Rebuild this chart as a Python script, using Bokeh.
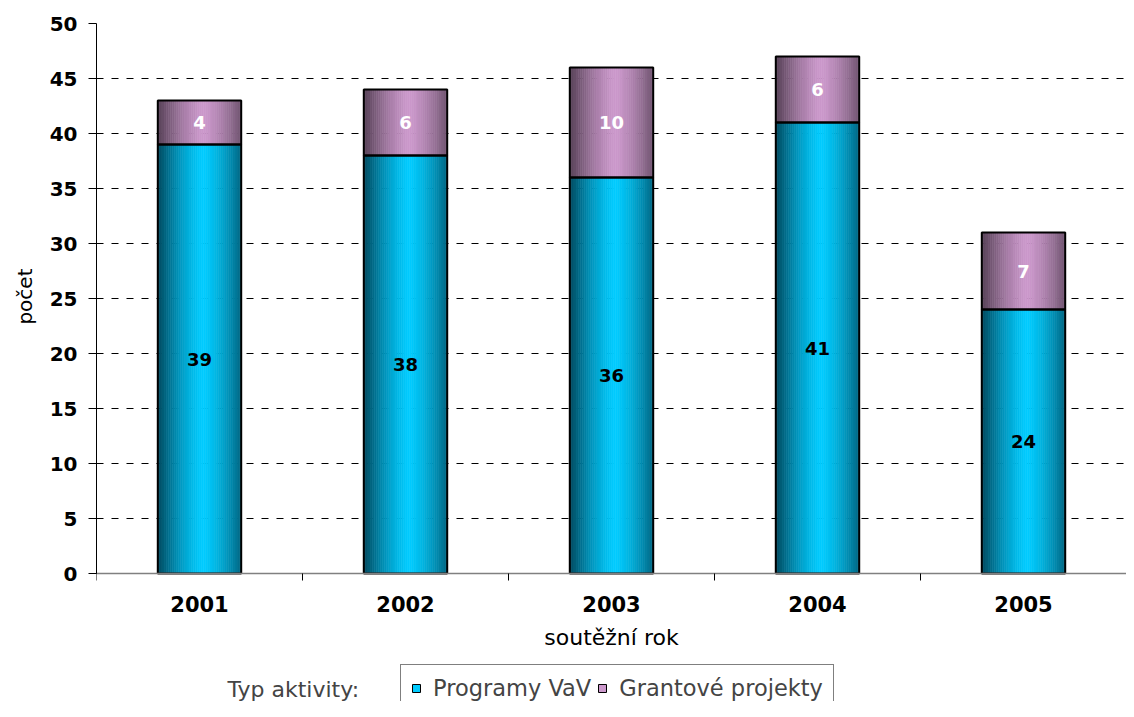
import numpy as np
from bokeh.plotting import figure
from bokeh.models import (ColumnDataSource, FixedTicker, Legend, LegendItem, Label, Range1d, Title)
from bokeh.core.properties import value
from bokeh.embed import file_html
from bokeh.resources import INLINE

# ---- data ----
years = ["2001", "2002", "2003", "2004", "2005"]
programy = [39, 38, 36, 41, 24]
granty = [4, 6, 10, 6, 7]
y_ticks = [0, 5, 10, 15, 20, 25, 30, 35, 40, 45, 50]
y_max = 50

FONT = "DejaVu Sans"
BAR_W = 0.405
N_SLICES = 40

W, H = 1126, 701
TOP, LEFT = 23, 96
PLOT_H = 550  # pixel height of the 0..50 value span
# extend the frame below zero so the axis texts and legend live inside it
y_low = -y_max * (H - TOP - PLOT_H) / PLOT_H

CYAN_LIGHT = np.array([0x00, 0xCC, 0xFF])
CYAN_DARK = np.array([0x00, 0x48, 0x5E])
PURP_LIGHT = np.array([0xCC, 0x99, 0xCC])
PURP_DARK = np.array([0x55, 0x40, 0x55])


def hexcol(c):
    c = np.clip(np.round(c), 0, 255).astype(int)
    return "#%02x%02x%02x" % tuple(c)


p = figure(width=W, height=H, output_backend="svg", toolbar_location=None,
           x_range=Range1d(0, len(years)), y_range=Range1d(y_low, y_max),
           min_border_left=LEFT, min_border_right=0, min_border_top=TOP, min_border_bottom=0)
p.outline_line_color = None
p.background_fill_color = "white"
p.border_fill_color = "white"

centers = np.arange(len(years)) + 0.5
bottoms_g = np.array(programy)
tops_g = np.array(programy) + np.array(granty)

# gradient slices
xs, b1, t1, c1, b2, t2, c2 = [], [], [], [], [], [], []
sw = BAR_W / N_SLICES
for k in range(N_SLICES):
    t = (k + 0.5) / N_SLICES
    d = abs(t - 0.55) / 0.55
    f = max(0.0, 1 - d ** 1.35)
    cc = hexcol(CYAN_DARK + (CYAN_LIGHT - CYAN_DARK) * f)
    pc = hexcol(PURP_DARK + (PURP_LIGHT - PURP_DARK) * f)
    for i in range(len(years)):
        xs.append(centers[i] - BAR_W / 2 + (k + 0.5) * sw)
        b1.append(0)
        t1.append(programy[i])
        c1.append(cc)
        b2.append(bottoms_g[i])
        t2.append(tops_g[i])
        c2.append(pc)

src1 = ColumnDataSource(dict(x=xs, bottom=b1, top=t1, color=c1))
src2 = ColumnDataSource(dict(x=xs, bottom=b2, top=t2, color=c2))
p.vbar(x="x", width=sw, bottom="bottom", top="top", source=src1,
       fill_color="color", line_color="color", line_width=0.6)
p.vbar(x="x", width=sw, bottom="bottom", top="top", source=src2,
       fill_color="color", line_color="color", line_width=0.6)

# outlines
osrc = ColumnDataSource(dict(x=centers, p=programy, gb=bottoms_g, gt=tops_g))
p.vbar(x="x", width=BAR_W, bottom=0, top="p", source=osrc,
       fill_color=None, line_color="black", line_width=2)
p.vbar(x="x", width=BAR_W, bottom="gb", top="gt", source=osrc,
       fill_color=None, line_color="black", line_width=2)

# value labels
lsrc = ColumnDataSource(dict(x=centers, y1=np.array(programy) / 2,
                             t1=[str(v) for v in programy],
                             y2=bottoms_g + np.array(granty) / 2,
                             t2=[str(v) for v in granty]))
p.text(x="x", y="y1", text="t1", source=lsrc, text_align="center", text_baseline="middle",
       text_font=value(FONT), text_font_style="bold", text_font_size="18px", text_color="black")
p.text(x="x", y="y2", text="t2", source=lsrc, text_align="center", text_baseline="middle",
       text_font=value(FONT), text_font_style="bold", text_font_size="18px", text_color="white")

# grid
p.xgrid.visible = False
p.ygrid.ticker = FixedTicker(ticks=y_ticks[1:])
p.ygrid.grid_line_color = "black"
p.ygrid.grid_line_dash = "7 8"
p.ygrid.grid_line_width = 1

# x axis drawn at y = 0
xa = p.xaxis[0]
xa.fixed_location = 0
xa.ticker = FixedTicker(ticks=list(centers), minor_ticks=list(range(len(years) + 1)))
xa.major_label_overrides = {float(c): y for c, y in zip(centers, years)}
xa.major_tick_out = 0
xa.major_tick_in = 0
xa.minor_tick_out = 7
xa.minor_tick_in = 0
xa.minor_tick_line_color = "black"
xa.axis_line_color = "#808080"
xa.axis_line_width = 1.5
xa.major_label_text_font = FONT
xa.major_label_text_font_style = "bold"
xa.major_label_text_font_size = "21px"
xa.major_label_text_color = "black"
xa.major_label_standoff = 15
xa.axis_label = "soutěžní rok"
xa.axis_label_text_font = FONT
xa.axis_label_text_font_style = "normal"
xa.axis_label_text_font_size = "22px"
xa.axis_label_text_color = "black"
xa.axis_label_standoff = 10

ya = p.yaxis[0]
ya.bounds = (0, y_max)
ya.ticker = FixedTicker(ticks=y_ticks)
ya.minor_tick_line_color = None
ya.major_tick_out = 8
ya.major_tick_in = 0
ya.major_tick_line_color = "black"
ya.axis_line_color = "black"
ya.major_label_text_font = FONT
ya.major_label_text_font_style = "bold"
ya.major_label_text_font_size = "20px"
ya.major_label_text_color = "black"
ya.major_label_standoff = 11

# y-axis title, placed against the 0..50 span
ytitle = Title(text="počet", align="right", offset=245, standoff=20,
               text_font=FONT, text_font_size="20px", text_font_style="normal",
               text_color="black")
p.add_layout(ytitle, "left")

# legend (dummy renderers sit outside the visible x range)
r1 = p.vbar(x=[-5], width=0.1, top=[1], fill_color="#00CCFF", line_color="black", line_width=1)
r2 = p.vbar(x=[-5], width=0.1, top=[1], fill_color="#CC99CC", line_color="black", line_width=1)
legend = Legend(items=[LegendItem(label="Programy VaV", renderers=[r1]),
                       LegendItem(label="Grantové projekty", renderers=[r2])],
                orientation="horizontal", location=(304, -11),
                glyph_width=10, glyph_height=10, label_standoff=12, spacing=6,
                padding=10, margin=0,
                label_text_font=FONT, label_text_font_size="22.5px",
                border_line_color="black", border_line_width=1,
                background_fill_color="white", background_fill_alpha=1)
p.add_layout(legend, "center")

p.add_layout(Label(x=131, y=12, x_units="screen", y_units="screen", text="Typ aktivity:",
                   text_font=FONT, text_font_size="22px", text_baseline="middle"))

open("out.html", "w").write(file_html(p, INLINE))
